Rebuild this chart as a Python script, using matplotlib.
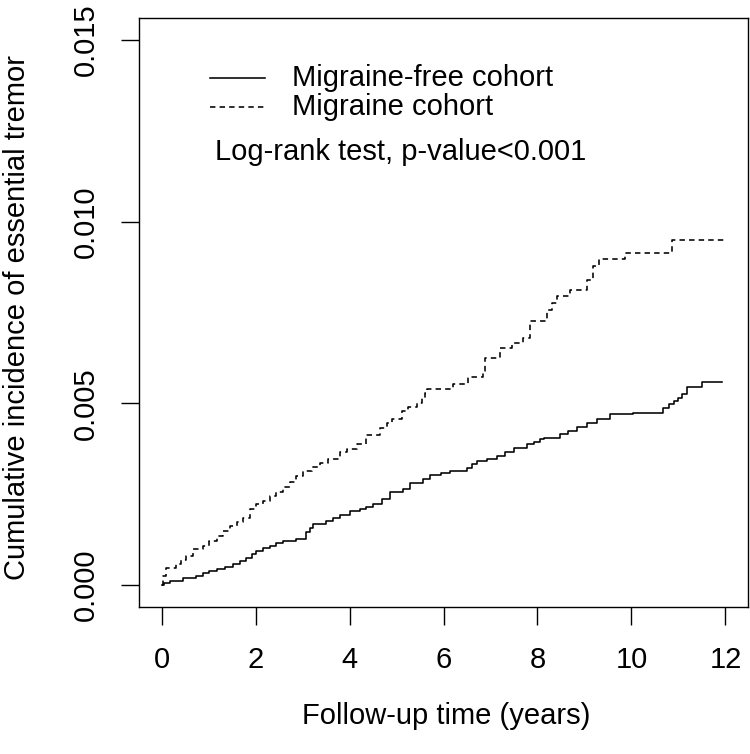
#!/usr/bin/env python3
"""
Cumulative incidence of essential tremor, migraine vs migraine-free cohort.
"""

import matplotlib
matplotlib.use('Agg')
import matplotlib.pyplot as plt

plt.rcParams['font.family'] = ['Liberation Sans', 'DejaVu Sans']

# Migraine-free cohort (solid), step times in years and cumulative incidence
free_time = [0.0, 0.05, 0.17, 0.45, 0.74, 0.88, 1.02, 1.17, 1.35, 1.51, 1.66, 1.8,
             1.92, 2.02, 2.16, 2.3, 2.44, 2.58, 2.87, 3.08, 3.15, 3.22, 3.51, 3.65,
             3.79, 4.0, 4.22, 4.36, 4.5, 4.7, 4.86, 5.14, 5.29, 5.57, 5.71, 5.95,
             6.14, 6.49, 6.6, 6.71, 6.92, 7.13, 7.3, 7.49, 7.77, 7.92, 8.06, 8.13,
             8.48, 8.65, 8.84, 9.05, 9.26, 9.55, 10.04, 10.68, 10.8, 10.9, 11.0,
             11.08, 11.18, 11.5, 11.92]
free_cum = [0.0, 0.00005, 0.00012, 0.0002, 0.00025, 0.00033, 0.00038, 0.00044,
            0.00051, 0.00058, 0.00066, 0.00074, 0.00085, 0.00094, 0.00101, 0.00108,
            0.00115, 0.00122, 0.00128, 0.00145, 0.00157, 0.00168, 0.00177, 0.00185,
            0.00194, 0.00204, 0.00209, 0.00216, 0.00224, 0.00238, 0.00255, 0.00264,
            0.00282, 0.00291, 0.00302, 0.00309, 0.00314, 0.00323, 0.00332, 0.00341,
            0.00348, 0.00355, 0.00366, 0.00378, 0.00387, 0.00394, 0.00401, 0.00406,
            0.00415, 0.00425, 0.00436, 0.00447, 0.00458, 0.0047, 0.00474, 0.00488,
            0.00497, 0.00506, 0.00516, 0.00526, 0.00546, 0.00558, 0.00558]

# Migraine cohort (dashed)
mig_time = [0.0, 0.03, 0.1, 0.31, 0.42, 0.53, 0.67, 0.88, 1.02, 1.17, 1.3, 1.45,
            1.6, 1.73, 1.88, 2.02, 2.16, 2.3, 2.44, 2.59, 2.73, 2.87, 3.01, 3.2,
            3.37, 3.55, 3.79, 3.94, 4.15, 4.36, 4.65, 4.79, 4.9, 5.11, 5.25, 5.43,
            5.55, 5.61, 5.65, 6.21, 6.53, 6.85, 6.88, 7.2, 7.45, 7.7, 7.84, 8.2,
            8.3, 8.41, 8.7, 9.05, 9.19, 9.3, 9.87, 10.86, 12.0]
mig_cum = [0.0, 0.00025, 0.00046, 0.00058, 0.00068, 0.0008, 0.00099, 0.00108,
           0.00121, 0.00135, 0.00149, 0.00163, 0.00173, 0.00185, 0.0021, 0.00222,
           0.00232, 0.00244, 0.00256, 0.00271, 0.00285, 0.003, 0.00315, 0.00325,
           0.00337, 0.00347, 0.00365, 0.00374, 0.00387, 0.00412, 0.00433, 0.00447,
           0.00456, 0.00479, 0.0049, 0.00502, 0.00516, 0.00529, 0.0054, 0.00552,
           0.00572, 0.00589, 0.00625, 0.00653, 0.00665, 0.0068, 0.00726, 0.00758,
           0.00775, 0.00795, 0.00813, 0.0084, 0.00877, 0.00896, 0.00914, 0.0095,
           0.0095]

x_ticks = [0, 2, 4, 6, 8, 10, 12]
y_ticks = [0.000, 0.005, 0.010, 0.015]
y_tick_labels = ['0.000', '0.005', '0.010', '0.015']

FS = 21
LW = 1.15
dash = (0, (3.4, 2.6))

fig = plt.figure(figsize=(7.5, 7.54), dpi=100)
ax = fig.add_axes([139 / 750, 1 - 607 / 754, 609 / 750, 589 / 754])

ax.step(free_time, free_cum, where='post', color='black', linewidth=LW)
ax.step(mig_time, mig_cum, where='post', color='black', linewidth=LW,
        linestyle=dash)

# R-style 4% axis extension
ax.set_xlim(-0.48, 12.48)
ax.set_ylim(-0.0006, 0.0156)

ax.set_xticks(x_ticks)
ax.set_xticklabels([str(t) for t in x_ticks])
ax.set_yticks(y_ticks)
ax.set_yticklabels(y_tick_labels)
ax.tick_params(direction='out', length=13, width=1, pad=15, labelsize=FS,
               colors='black')
plt.setp(ax.get_yticklabels(), rotation=90, va='center')

for s in ax.spines.values():
    s.set_linewidth(1.0)
    s.set_color('black')

ax.set_xlabel('Follow-up time (years)', fontsize=FS)
ax.set_ylabel('Cumulative incidence of essential tremor', fontsize=FS)
ax.xaxis.set_label_coords(0.504, -0.162)
ax.yaxis.set_label_coords(-0.178, 0.492)

# Legend drawn by hand, R style
ax.plot([0.117, 0.207], [0.898, 0.898], transform=ax.transAxes,
        color='black', linewidth=LW)
ax.text(0.251, 0.898, 'Migraine-free cohort', transform=ax.transAxes,
        fontsize=FS, va='center', ha='left')
ax.plot([0.117, 0.207], [0.849, 0.849], transform=ax.transAxes,
        color='black', linewidth=LW, linestyle=dash)
ax.text(0.251, 0.849, 'Migraine cohort', transform=ax.transAxes,
        fontsize=FS, va='center', ha='left')
ax.text(0.125, 0.772, 'Log-rank test, p-value<0.001', transform=ax.transAxes,
        fontsize=FS, va='center', ha='left')

fig.savefig('out.png', dpi=100)
